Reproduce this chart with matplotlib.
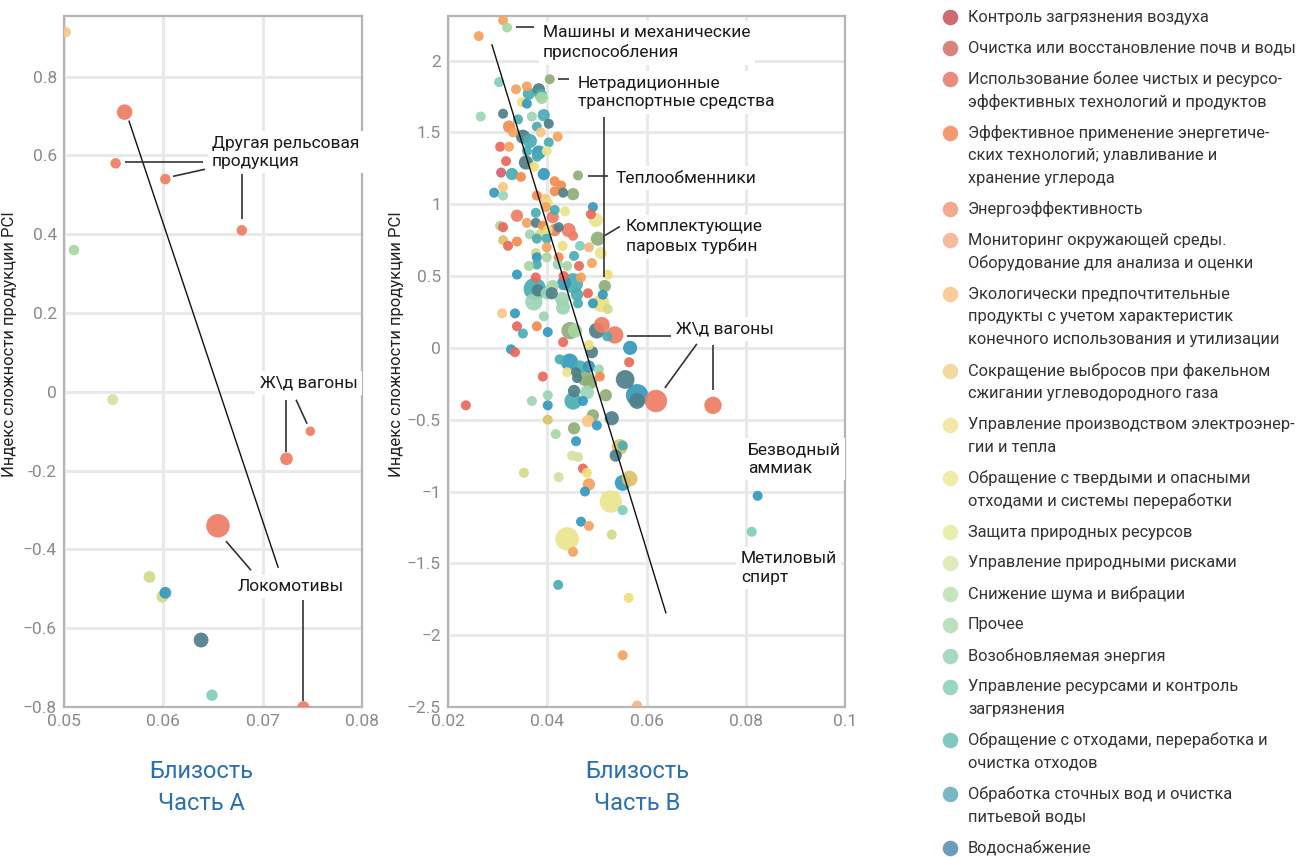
import matplotlib
matplotlib.use('Agg')
import matplotlib.pyplot as plt
import numpy as np

# ---------------- categories (legend) ----------------
categories = [
    ["Контроль загрязнения воздуха"],
    ["Очистка или восстановление почв и воды"],
    ["Использование более чистых и ресурсо-", "эффективных технологий и продуктов"],
    ["Эффективное применение энергетиче-", "ских технологий; улавливание и", "хранение углерода"],
    ["Энергоэффективность"],
    ["Мониторинг окружающей среды.", "Оборудование для анализа и оценки"],
    ["Экологически предпочтительные", "продукты с учетом характеристик", "конечного использования и утилизации"],
    ["Сокращение выбросов при факельном", "сжигании углеводородного газа"],
    ["Управление производством электроэнер-", "гии и тепла"],
    ["Обращение с твердыми и опасными", "отходами и системы переработки"],
    ["Защита природных ресурсов"],
    ["Управление природными рисками"],
    ["Снижение шума и вибрации"],
    ["Прочее"],
    ["Возобновляемая энергия"],
    ["Управление ресурсами и контроль", "загрязнения"],
    ["Обращение с отходами, переработка и", "очистка отходов"],
    ["Обработка сточных вод и очистка", "питьевой воды"],
    ["Водоснабжение"],
]
legend_colors = ["#cd6a72", "#d8837e", "#e88c80", "#f59a70", "#f3aa8c", "#f4bc9c",
                 "#fbcb98", "#f1d9a0", "#f1e8a6", "#eeeca6", "#e9eeac", "#dfeabd",
                 "#c8e4bc", "#bfe0bf", "#a8d9c0", "#98d6c0", "#7ec8c0", "#78b8c5",
                 "#6b9cbb"]
point_colors = ["#d65f6f", "#e9695a", "#ee7d64", "#f38b4c", "#f5a35f", "#f6b483",
                "#f9c784", "#dcc26a", "#efe07a", "#ebe58e", "#d3da8a", "#d3e2a2",
                "#8fae78", "#a9d6a2", "#9dd4b4", "#7fcdbc", "#49adb2", "#3598bd",
                "#4e7f88"]

# ---------------- Part A data ----------------
a_x = [0.0502, 0.0561, 0.0552, 0.0602, 0.0679, 0.0510, 0.0549, 0.0748,
       0.0724, 0.0655, 0.0586, 0.0599, 0.0602, 0.0638, 0.0649, 0.0741]
a_y = [0.913, 0.71, 0.58, 0.54, 0.41, 0.36, -0.02, -0.10,
       -0.17, -0.34, -0.47, -0.52, -0.51, -0.63, -0.77, -0.80]
a_vol = [1.0, 2.4, 1.1, 1.1, 1.1, 1.1, 1.2, 0.9,
         1.6, 5.5, 1.4, 1.4, 1.4, 2.2, 1.3, 1.4]
a_cat = [6, 2, 2, 2, 2, 13, 11, 2, 2, 2, 10, 10, 17, 18, 15, 2]

# ---------------- Part B data ----------------
b_x = [0.0262, 0.0311, 0.0319, 0.0405, 0.0303, 0.0337, 0.0359, 0.0363, 0.0383, 0.0387,
       0.0389, 0.0349, 0.0359, 0.0266, 0.0311, 0.0341, 0.0369, 0.0393, 0.0403, 0.0379,
       0.0323, 0.0331, 0.0387, 0.0421, 0.0403, 0.0351, 0.0365, 0.0305, 0.0323, 0.0359,
       0.0383, 0.0399, 0.0317, 0.0379, 0.0357, 0.0373, 0.0307, 0.0329, 0.0347, 0.0393,
       0.0415, 0.0428, 0.0462, 0.0293, 0.0311, 0.0311, 0.0415, 0.0432, 0.0452, 0.0379,
       0.0395, 0.0401, 0.0492, 0.0377, 0.0397, 0.0415, 0.0436, 0.0339, 0.0411, 0.0488,
       0.0498, 0.0359, 0.0377, 0.0391, 0.0415, 0.0443, 0.0452, 0.0305, 0.0311, 0.0423,
       0.0401, 0.0365, 0.0385, 0.0311, 0.0339, 0.0379, 0.0399, 0.0502, 0.0321, 0.0399,
       0.0431, 0.0466, 0.0484, 0.0508, 0.0377, 0.0379, 0.0399, 0.0423, 0.0454, 0.0421,
       0.0379, 0.0363, 0.0440, 0.0464, 0.0490, 0.0339, 0.0377, 0.0433, 0.0468, 0.0522,
       0.0516, 0.0375, 0.0381, 0.0452, 0.0434, 0.0411, 0.0399, 0.0482, 0.0512, 0.0409,
       0.0460, 0.0373, 0.0430, 0.0462, 0.0508, 0.0492, 0.0522, 0.0309, 0.0335, 0.0393,
       0.0432, 0.0339, 0.0379, 0.0401, 0.0351, 0.0446, 0.0456, 0.0500, 0.0510, 0.0536,
       0.0521, 0.0432, 0.0567, 0.0327, 0.0335, 0.0484, 0.0490, 0.0565, 0.0425, 0.0445,
       0.0466, 0.0484, 0.0440, 0.0458, 0.0504, 0.0476, 0.0486, 0.0506, 0.0557, 0.0460,
       0.0391, 0.0581, 0.0581, 0.0619, 0.0734, 0.0236, 0.0369, 0.0401, 0.0401, 0.0452,
       0.0454, 0.0472, 0.0480, 0.0518, 0.0401, 0.0492, 0.0482, 0.0500, 0.0530, 0.0417,
       0.0454, 0.0458, 0.0546, 0.0552, 0.0538, 0.0450, 0.0462, 0.0353, 0.0423, 0.0472,
       0.0480, 0.0484, 0.0476, 0.0552, 0.0566, 0.0528, 0.0552, 0.0468, 0.0484, 0.0440,
       0.0530, 0.0452, 0.0422, 0.0564, 0.0552, 0.0581, 0.0824, 0.0812]
b_y = [2.17, 2.28, 2.23, 1.87, 1.85, 1.80, 1.82, 1.77, 1.80, 1.76,
       1.74, 1.71, 1.70, 1.61, 1.63, 1.59, 1.61, 1.62, 1.56, 1.54,
       1.54, 1.50, 1.50, 1.47, 1.43, 1.47, 1.44, 1.40, 1.40, 1.37,
       1.36, 1.37, 1.30, 1.33, 1.29, 1.26, 1.22, 1.21, 1.19, 1.21,
       1.16, 1.13, 1.20, 1.08, 1.06, 1.12, 1.09, 1.08, 1.07, 1.06,
       1.03, 1.01, 0.98, 0.94, 0.98, 0.96, 0.95, 0.92, 0.91, 0.93,
       0.89, 0.87, 0.87, 0.85, 0.82, 0.82, 0.78, 0.85, 0.84, 0.84,
       0.82, 0.79, 0.79, 0.75, 0.74, 0.76, 0.76, 0.76, 0.71, 0.70,
       0.71, 0.71, 0.70, 0.66, 0.66, 0.63, 0.63, 0.63, 0.64, 0.58,
       0.58, 0.57, 0.57, 0.57, 0.59, 0.51, 0.49, 0.50, 0.49, 0.51,
       0.43, 0.41, 0.40, 0.45, 0.45, 0.43, 0.38, 0.38, 0.37, 0.38,
       0.37, 0.32, 0.34, 0.31, 0.31, 0.31, 0.27, 0.24, 0.24, 0.22,
       0.28, 0.15, 0.15, 0.11, 0.10, 0.12, 0.12, 0.12, 0.16, 0.09,
       0.08, 0.04, 0.00, -0.01, -0.03, 0.02, -0.03, -0.10, -0.08, -0.10,
       -0.13, -0.13, -0.17, -0.17, -0.15, -0.21, -0.24, -0.20, -0.22, -0.21,
       -0.20, -0.33, -0.37, -0.37, -0.40, -0.40, -0.37, -0.33, -0.40, -0.37,
       -0.30, -0.37, -0.31, -0.33, -0.50, -0.47, -0.51, -0.54, -0.49, -0.60,
       -0.56, -0.65, -0.69, -0.68, -0.75, -0.75, -0.76, -0.87, -0.90, -0.84,
       -0.87, -0.95, -1.00, -0.94, -0.91, -1.07, -1.13, -1.21, -1.24, -1.33,
       -1.30, -1.42, -1.65, -1.74, -2.14, -2.49, -1.03, -1.28]
b_vol = [1, 1, 1, 1, 1, 1, 1, 1.5, 1.5, 1.5,
         1.5, 1, 1, 1, 1, 1, 1, 1.5, 1, 1,
         1.5, 1, 1, 1, 1, 2, 2, 1, 1, 1,
         2, 1, 1, 1, 2, 1, 1, 1.5, 1, 1.5,
         1, 1, 1, 1, 1, 1, 1, 1, 1.5, 1,
         1.5, 1, 1, 1, 1, 1, 1, 1.5, 1.5, 1,
         2, 1, 1, 1, 1.5, 2, 1, 1, 1, 1,
         1, 1, 1, 1, 1, 1, 1, 2, 1, 1,
         1, 1, 1, 1.5, 1, 1, 1, 1, 1, 1,
         1, 1, 1, 1, 1, 1, 1, 1, 1, 1,
         1.5, 5, 1.5, 4, 2, 1.5, 1.5, 1, 1, 1.5,
         1.5, 3, 2, 1, 3, 1, 1, 1, 1, 1,
         2, 1, 1, 1, 1, 3, 2, 2.5, 2.5, 3,
         1, 1, 2, 1, 1, 1, 1.5, 1, 1, 3,
         1.5, 1.5, 1, 1, 1, 2.5, 2, 1, 3.5, 1,
         1, 5, 2.5, 5, 3, 1, 1, 1, 1, 3,
         1.5, 1, 2, 1.5, 1, 1.5, 1.5, 1, 2, 1,
         1.5, 1, 2.5, 1, 1.5, 1, 1, 1, 1, 1,
         1, 1.5, 1, 2.5, 2.5, 5, 1, 1, 1, 5.5,
         1, 1, 1, 1, 1, 1, 1, 1]
b_cat = [4, 4, 13, 12, 15, 4, 4, 16, 18, 16,
         13, 8, 17, 14, 18, 16, 14, 16, 18, 16,
         3, 4, 6, 4, 16, 18, 16, 1, 4, 16,
         17, 9, 1, 16, 18, 8, 0, 16, 3, 17,
         3, 3, 12, 17, 14, 6, 3, 18, 12, 3,
         6, 8, 17, 16, 4, 16, 9, 2, 2, 1,
         9, 4, 18, 3, 2, 2, 2, 13, 1, 18,
         8, 14, 10, 7, 3, 16, 16, 12, 1, 4,
         8, 15, 5, 9, 10, 17, 13, 3, 16, 14,
         16, 13, 13, 1, 4, 17, 1, 1, 4, 8,
         12, 16, 18, 16, 17, 13, 14, 1, 17, 18,
         16, 14, 14, 16, 8, 17, 10, 6, 17, 14,
         14, 1, 3, 17, 16, 12, 13, 18, 2, 2,
         16, 1, 17, 17, 1, 8, 18, 1, 16, 17,
         16, 17, 9, 18, 14, 12, 12, 3, 18, 18,
         1, 17, 18, 2, 2, 1, 14, 14, 17, 16,
         18, 17, 14, 12, 7, 12, 6, 17, 18, 13,
         12, 17, 7, 16, 18, 11, 11, 10, 11, 1,
         8, 4, 17, 17, 7, 9, 15, 17, 4, 9,
         10, 4, 16, 8, 4, 5, 17, 15]

# lines drawn across the panels (start / end points in data units)
a_line_x = [0.05655, 0.07155]
a_line_y = [0.687, -0.445]
b_line_x = [0.02886, 0.06390]
b_line_y = [2.109, -1.844]

# annotations: (text, x, y) and leader segments ((x0, y0), (x1, y1))
a_labels = [("Другая рельсовая\nпродукция", 0.0649, 0.608),
            ("Ж\\д вагоны", 0.0697, 0.023),
            ("Локомотивы", 0.0675, -0.494)]
a_leaders = [((0.05614, 0.583), (0.0640, 0.583)),
             ((0.06098, 0.547), (0.06420, 0.565)),
             ((0.06792, 0.552), (0.06792, 0.438)),
             ((0.07236, -0.020), (0.07236, -0.153)),
             ((0.07336, -0.020), (0.07447, -0.081)),
             ((0.06631, -0.379), (0.06883, -0.453)),
             ((0.07407, -0.529), (0.07407, -0.784))]
b_labels = [("Машины и механические\nприспособления", 0.03913, 2.123),
            ("Нетрадиционные\nтранспортные средства", 0.04618, 1.777),
            ("Теплообменники", 0.05383, 1.180),
            ("Комплектующие\nпаровых турбин", 0.05585, 0.772),
            ("Ж\\д вагоны", 0.06592, 0.133),
            ("Безводный\nаммиак", 0.08042, -0.775),
            ("Метиловый\nспирт", 0.07901, -1.533)]
b_leaders = [((0.03370, 2.235), (0.03732, 2.235)),
             ((0.04215, 1.872), (0.04437, 1.872)),
             ((0.05142, 1.606), (0.05142, 0.496)),
             ((0.04820, 1.194), (0.05222, 1.194)),
             ((0.05162, 0.782), (0.05464, 0.845)),
             ((0.05605, 0.084), (0.06491, 0.084)),
             ((0.07015, 0.028), (0.06370, -0.279)),
             ((0.07337, 0.021), (0.07337, -0.293))]

a_xticks = [0.05, 0.06, 0.07, 0.08]
a_yticks = [-0.8, -0.6, -0.4, -0.2, 0, 0.2, 0.4, 0.6, 0.8]
b_xticks = [0.02, 0.04, 0.06, 0.08, 0.1]
b_yticks = [-2.5, -2, -1.5, -1, -0.5, 0, 0.5, 1, 1.5, 2]

ylabel = "Индекс сложности продукции PCI"
xlabel_a = ["Близость", "Часть А"]
xlabel_b = ["Близость", "Часть В"]

# ---------------- drawing ----------------
plt.rcParams['font.family'] = ['Roboto', 'DejaVu Sans']
W, H = 1299, 857
fig = plt.figure(figsize=(W / 100, H / 100), dpi=100)
fig.patch.set_facecolor('white')

def fmt(v):
    s = ("%g" % v)
    return s.replace("-", "\u2212") if v < -0.3 else s

def style(ax, xt, yt, xlim, ylim, lab_x):
    ax.set_xlim(*xlim)
    ax.set_ylim(*ylim)
    ax.set_xticks(xt)
    ax.set_yticks(yt)
    ax.set_xticklabels([("%g" % v) for v in xt])
    ax.set_yticklabels([fmt(v) for v in yt])
    ax.grid(True, color='#e9e9e9', lw=2.2)
    ax.set_axisbelow(True)
    for sp in ax.spines.values():
        sp.set_color('#b5b5b5')
        sp.set_linewidth(1.6)
    ax.tick_params(length=0, labelsize=12.5, labelcolor='#8a8a8a', pad=5)
    for t in ax.get_xticklabels() + ax.get_yticklabels():
        t.set_fontfamily(['Liberation Sans Narrow', 'Roboto', 'DejaVu Sans'])
    ax.set_ylabel(ylabel, fontsize=12, color='#222222')
    ax.yaxis.set_label_coords(lab_x, 0.525)

def draw_points(ax, xs, ys, vols, cats):
    order = np.argsort(-np.array(vols), kind='stable')
    xs = np.array(xs)[order]
    ys = np.array(ys)[order]
    vs = np.array(vols)[order]
    cs = [point_colors[cats[i]] for i in order]
    ax.scatter(xs, ys, s=vs * 52, c=cs, alpha=0.92, linewidths=0, zorder=3)

def draw_notes(ax, labels, leaders):
    for (p0, p1) in leaders:
        ax.plot([p0[0], p1[0]], [p0[1], p1[1]], color='#333333', lw=1.2, zorder=4,
                solid_capstyle='butt')
    for (txt, x, y) in labels:
        ax.text(x, y, txt, fontsize=12.5, color='#1a1a1a', ha='left', va='center',
                linespacing=1.3, zorder=6,
                bbox=dict(boxstyle='square,pad=0.25', fc='white', ec='none'))

axA = fig.add_axes([64 / W, 1 - 707 / H, (362 - 64) / W, (707 - 16) / H])
style(axA, a_xticks, a_yticks, (0.05, 0.08), (-0.8, 0.954), (17 - 64) / 298)
draw_points(axA, a_x, a_y, a_vol, a_cat)
axA.plot(a_line_x, a_line_y, color='#111111', lw=1.0, zorder=4)
draw_notes(axA, a_labels, a_leaders)

axB = fig.add_axes([448 / W, 1 - 707 / H, (845 - 448) / W, (707 - 16) / H])
style(axB, b_xticks, b_yticks, (0.02, 0.1), (-2.5, 2.31), (404 - 448) / 397)
draw_points(axB, b_x, b_y, b_vol, b_cat)
axB.plot(b_line_x, b_line_y, color='#111111', lw=1.0, zorder=4)
draw_notes(axB, b_labels, b_leaders)

# overlay in pixel coordinates for legend and panel captions
ov = fig.add_axes([0, 0, 1, 1], zorder=10)
ov.set_xlim(0, W)
ov.set_ylim(H, 0)
ov.axis('off')
ov.patch.set_alpha(0)

y = 17
for lines, col in zip(categories, legend_colors):
    ov.scatter([950], [y], s=125, color=col, linewidths=0)
    for k, ln in enumerate(lines):
        ov.text(968, y + 22.9 * k, ln, fontsize=11.8, color='#333333', ha='left', va='center')
    y += 22.9 * (len(lines) - 1) + 30.9

for cx, lab in ((201, xlabel_a), (637, xlabel_b)):
    for k, ln in enumerate(lab):
        ov.text(cx, 772 + 31 * k, ln, fontsize=17, color='#2a6fae', ha='center', va='center')

fig.savefig('out.png', dpi=100, facecolor='white')
